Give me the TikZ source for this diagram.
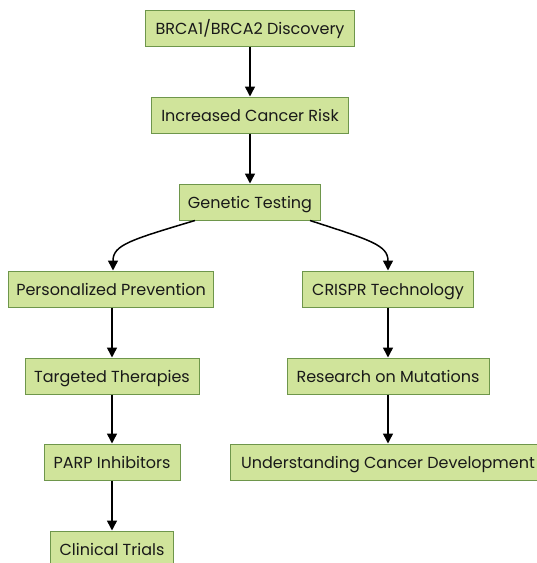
\documentclass[tikz,border=0pt]{standalone}
\usepackage{fontspec}
\setmainfont{Poppins}
\usetikzlibrary{arrows.meta}
\definecolor{boxfill}{RGB}{208,228,155}
\definecolor{boxdraw}{RGB}{110,150,75}
\definecolor{txt}{RGB}{25,25,25}
\tikzset{
  box/.style={draw=boxdraw, fill=boxfill, line width=1pt, minimum height=36pt, inner xsep=6pt, text height=13pt, text depth=0pt, font=\fontsize{16}{18}\selectfont, text=txt, anchor=center},
  conn/.style={line width=1.5pt, -{Triangle[length=10pt,width=10pt]}}
}
\begin{document}
\begin{tikzpicture}[x=1pt,y=-1pt]
\useasboundingbox (0,0) rectangle (537,563);
\node[box, minimum width=209pt] (a) at (250,28) {BRCA1/BRCA2 Discovery};
\node[box, minimum width=197pt] (b) at (250,115) {Increased Cancer Risk};
\node[box, minimum width=141pt] (c) at (250,202) {Genetic Testing};
\node[box, minimum width=205pt] (d) at (111,289) {Personalized Prevention};
\node[box, minimum width=171pt] (e) at (388,289) {CRISPR Technology};
\node[box, minimum width=174pt] (f) at (112,376) {Targeted Therapies};
\node[box, minimum width=202pt] (g) at (388,376) {Research on Mutations};
\node[box, minimum width=136pt] (h) at (112,462) {PARP Inhibitors};
\node[box, minimum width=316pt] (i) at (388,462) {Understanding Cancer Development};
\node[box, minimum width=123pt] (j) at (112,549) {Clinical Trials};
\draw[conn] (a) -- (b);
\draw[conn] (b) -- (c);
\draw[conn] ([xshift=-55pt]c.south) .. controls (130,240) and (113,245) .. (d.north -| 113,0);
\draw[conn] ([xshift=60pt]c.south) .. controls (370,240) and (388,245) .. (e.north);
\draw[conn] (d.south -| 112,0) -- (f.north);
\draw[conn] (f) -- (h);
\draw[conn] (h) -- (j);
\draw[conn] (e) -- (g);
\draw[conn] (g) -- (i);
\end{tikzpicture}
\end{document}
